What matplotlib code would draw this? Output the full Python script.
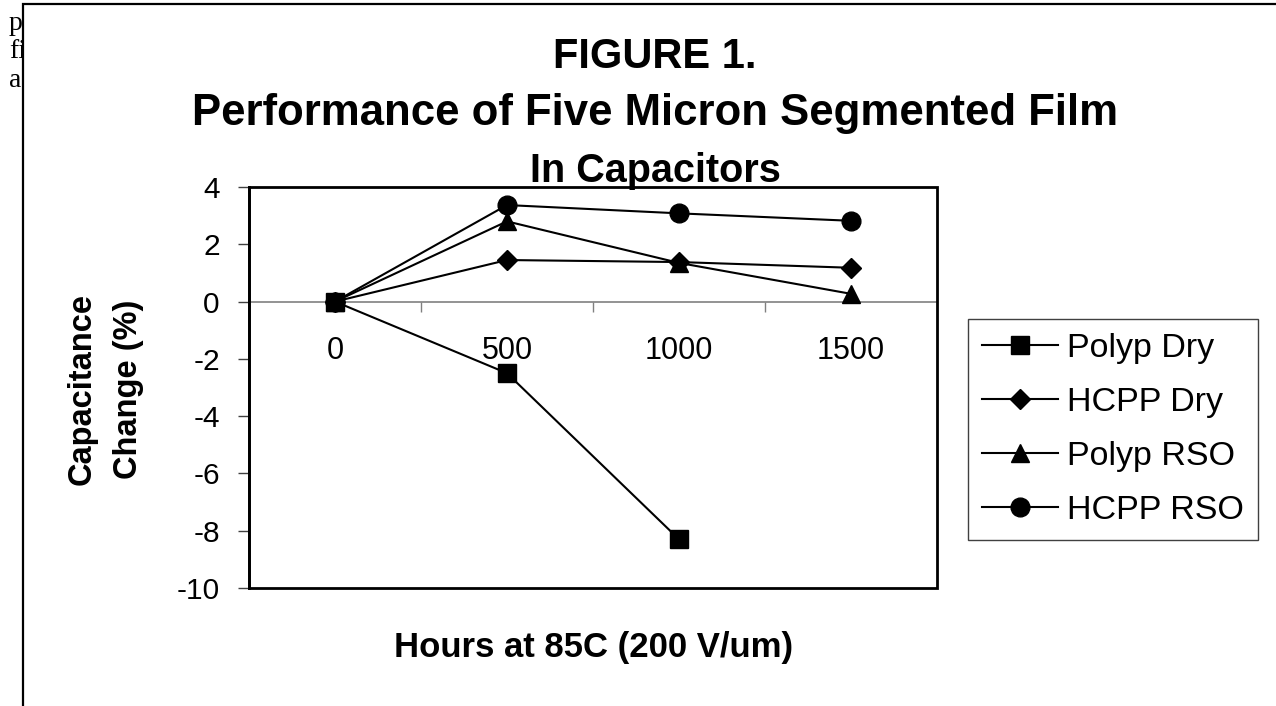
import numpy as np
import matplotlib
matplotlib.use('Agg')
import matplotlib.pyplot as plt
from matplotlib.patches import Rectangle
from matplotlib.ticker import FixedLocator, NullFormatter, FixedFormatter

# ---------------- data ----------------
hours = ['0', '500', '1000', '1500']
polyp_dry = [0, -2.5, -8.3, np.nan]
hcpp_dry = [0, 1.45, 1.38, 1.18]
polyp_rso = [0, 2.8, 1.35, 0.27]
hcpp_rso = [0, 3.37, 3.08, 2.82]
series_names = ['Polyp Dry', 'HCPP Dry', 'Polyp RSO', 'HCPP RSO']
y_ticks = [4, 2, 0, -2, -4, -6, -8, -10]
title_lines = ['FIGURE 1.', 'Performance of Five Micron Segmented Film', 'In Capacitors']
x_label = 'Hours at 85C (200 V/um)'
y_label_lines = ['Capacitance', 'Change (%)']

plt.rcParams['font.family'] = ['Liberation Sans', 'DejaVu Sans']

W, H = 1276, 706
fig = plt.figure(figsize=(W / 100, H / 100), dpi=100)


def fx(px):
    return px / W


def fy(py):
    return 1 - py / H


# fragments of surrounding document text (covered by the chart frame)
for txt, yb in [('p', 30), ('fi', 58), ('as', 87)]:
    fig.text(fx(9), fy(yb), txt, family='Liberation Serif', fontsize=20,
             va='baseline', ha='left', zorder=0)

# chart frame (only left and top edges visible)
frame = Rectangle((fx(23), fy(760)), fx(1330) - fx(23), fy(4) - fy(760),
                  transform=fig.transFigure, facecolor='white',
                  edgecolor='black', lw=1.6, zorder=1)
fig.patches.append(frame)

# ---------------- axes ----------------
ax = fig.add_axes([fx(249), fy(588), fx(937) - fx(249), fy(187) - fy(588)])
ax.set_zorder(2)
ax.set_facecolor('white')

x = np.arange(len(hours))
ax.set_xlim(-0.5, len(hours) - 0.5)
ax.set_ylim(-10, 4)

lw = 1.5
l_hd, = ax.plot(x, hcpp_dry, color='black', lw=lw, marker='D', ms=10, zorder=3)
l_pr, = ax.plot(x, polyp_rso, color='black', lw=lw, marker='^', ms=13.5, zorder=4)
l_hr, = ax.plot(x, hcpp_rso, color='black', lw=lw, marker='o', ms=13.5, zorder=5)
l_pd, = ax.plot(x, polyp_dry, color='black', lw=lw, marker='s', ms=12.5, zorder=6)

# spines: bottom axis at zero (gray), border drawn as rectangle
for s in ['top', 'right']:
    ax.spines[s].set_visible(False)
ax.spines['left'].set_color('black')
ax.spines['left'].set_linewidth(2)
ax.spines['bottom'].set_position(('data', 0))
ax.spines['bottom'].set_color('#808080')
ax.spines['bottom'].set_linewidth(1.2)
ax.spines['bottom'].set_zorder(2)
border = Rectangle((0, 0), 1, 1, transform=ax.transAxes, fill=False,
                   edgecolor='black', lw=2, clip_on=False, zorder=7)
ax.add_patch(border)

# x ticks between categories, labels at categories
ax.xaxis.set_major_locator(FixedLocator([0.5, 1.5, 2.5]))
ax.xaxis.set_major_formatter(NullFormatter())
ax.xaxis.set_minor_locator(FixedLocator(x))
ax.xaxis.set_minor_formatter(FixedFormatter(hours))
ax.tick_params(axis='x', which='major', direction='out', length=7.5,
               width=1, color='#808080')
ax.tick_params(axis='x', which='minor', length=0, pad=25, labelsize=22)

ax.yaxis.set_major_locator(FixedLocator(y_ticks))
ax.set_yticklabels([str(v) for v in y_ticks])
ax.tick_params(axis='y', direction='out', length=8, width=1, color='#404040',
               pad=13, labelsize=21.5)

# ---------------- texts ----------------
for txt, yb, fs in zip(title_lines, [68, 125, 182], [30, 31.5, 28.5]):
    fig.text(fx(655), fy(yb), txt, ha='center', va='baseline', fontsize=fs,
             fontweight='bold', zorder=3)

fig.text(fx(594), fy(657), x_label, ha='center', va='baseline', fontsize=25,
         fontweight='bold', zorder=3)

for txt, xb in zip(y_label_lines, [91, 137]):
    fig.text(fx(xb), fy(389), txt, ha='center', va='baseline', rotation=90,
             rotation_mode='anchor', fontsize=23.5, fontweight='bold', zorder=3)

# ---------------- legend ----------------
leg = fig.legend([l_pd, l_hd, l_pr, l_hr], series_names, loc='upper left',
                 bbox_to_anchor=(fx(968), fy(319)),
                 bbox_transform=fig.transFigure, frameon=True, fancybox=False,
                 edgecolor='#404040', framealpha=1, fontsize=24.5,
                 handlelength=2.25, handletextpad=0.27, borderpad=0.4,
                 labelspacing=0.68, borderaxespad=0, numpoints=1)
leg.get_frame().set_linewidth(1)
leg.set_zorder(6)

fig.savefig('out.png', dpi=100)
